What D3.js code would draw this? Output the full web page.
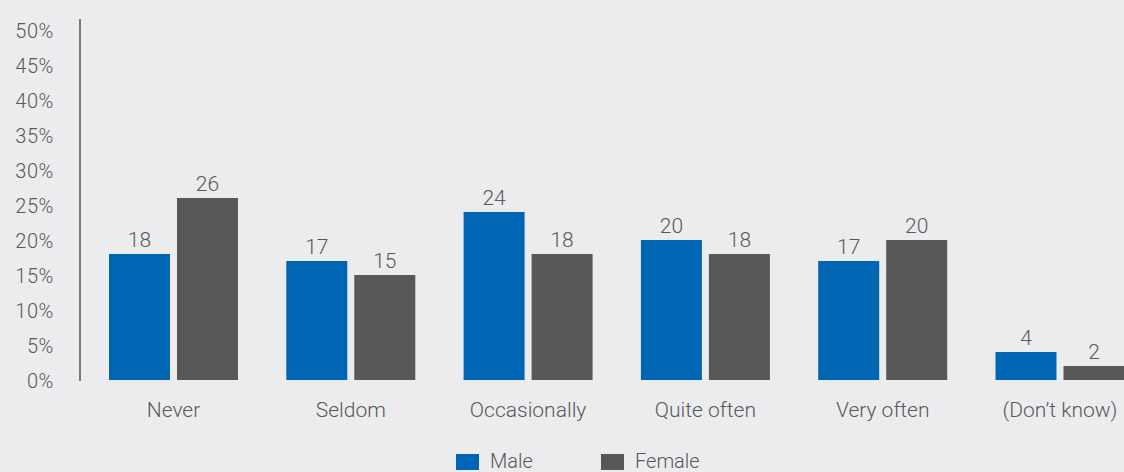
<!DOCTYPE html>
<html>
<head>
<meta charset="utf-8">
<script src="https://cdn.jsdelivr.net/npm/d3@7"></script>
<style>
  html, body { margin: 0; padding: 0; background: #ececee; }
  svg { display: block; }
  text { font-family: "Roboto", "Liberation Sans", sans-serif; font-weight: 300; fill: #58585a; }
</style>
</head>
<body>
<svg id="chart" width="1124" height="472"></svg>
<script>
// Frequency by gender, in percent
const categories = ["Never", "Seldom", "Occasionally", "Quite often", "Very often", "(Don\u2019t know)"];
const series = ["Male", "Female"];
const maleValues = [18, 17, 24, 20, 17, 4];
const femaleValues = [26, 15, 18, 18, 20, 2];
const yTicks = [0, 5, 10, 15, 20, 25, 30, 35, 40, 45, 50];
const colors = { Male: "#0065b3", Female: "#58585a" };

const svg = d3.select("#chart");

const y = d3.scaleLinear().domain([0, 50]).range([380, 30]);

const x0 = d3.scaleBand()
  .domain(categories)
  .range([84.85, 1148.65])
  .paddingInner(0.2724)
  .paddingOuter(0.1362);

const x1 = d3.scaleBand()
  .domain(series)
  .range([0, x0.bandwidth()])
  .paddingInner(0.103)
  .paddingOuter(0);

const rows = categories.map((c, i) => ({ cat: c, Male: maleValues[i], Female: femaleValues[i] }));

// Y axis: percentage labels and a plain vertical rule
const yAxis = d3.axisLeft(y).tickValues(yTicks).tickSize(0).tickPadding(0)
  .tickFormat(d => d + "%");
const gy = svg.append("g").attr("transform", "translate(54,0)").call(yAxis);
gy.select(".domain").remove();
gy.selectAll("text").style("font-size", "20px").style("letter-spacing", "0.6px").attr("dy", "0.36em");

svg.append("line")
  .attr("x1", 80).attr("x2", 80)
  .attr("y1", 19).attr("y2", 381)
  .attr("stroke", "#7a7a7c").attr("stroke-width", 2);

// Grouped bars
const groups = svg.append("g").selectAll("g").data(rows).join("g")
  .attr("transform", d => `translate(${x0(d.cat)},0)`);

groups.selectAll("rect")
  .data(d => series.map(s => ({ s, v: d[s] })))
  .join("rect")
  .attr("x", d => x1(d.s))
  .attr("y", d => y(d.v))
  .attr("width", x1.bandwidth())
  .attr("height", d => y(0) - y(d.v))
  .attr("fill", d => colors[d.s]);

groups.selectAll("text.val")
  .data(d => series.map(s => ({ s, v: d[s] })))
  .join("text")
  .attr("class", "val")
  .attr("x", d => x1(d.s) + x1.bandwidth() / 2)
  .attr("y", d => y(d.v) - 7)
  .attr("text-anchor", "middle")
  .style("font-size", "21px")
  .text(d => d.v);

// Category labels
const xAxis = d3.axisBottom(x0).tickSize(0).tickPadding(0);
const gx = svg.append("g").attr("transform", "translate(0,416.5)").call(xAxis);
gx.select(".domain").remove();
gx.selectAll("text").attr("dy", 0).style("font-size", "21px");

// Legend
const legend = svg.append("g");
const legendItems = [
  { s: "Male", x: 456 },
  { s: "Female", x: 601 }
];
legend.selectAll("rect").data(legendItems).join("rect")
  .attr("x", d => d.x).attr("y", 454)
  .attr("width", 23).attr("height", 16)
  .attr("fill", d => colors[d.s]);
legend.selectAll("text").data(legendItems).join("text")
  .attr("x", d => d.x + 34).attr("y", 468)
  .style("font-size", "20px")
  .text(d => d.s);
</script>
</body>
</html>
